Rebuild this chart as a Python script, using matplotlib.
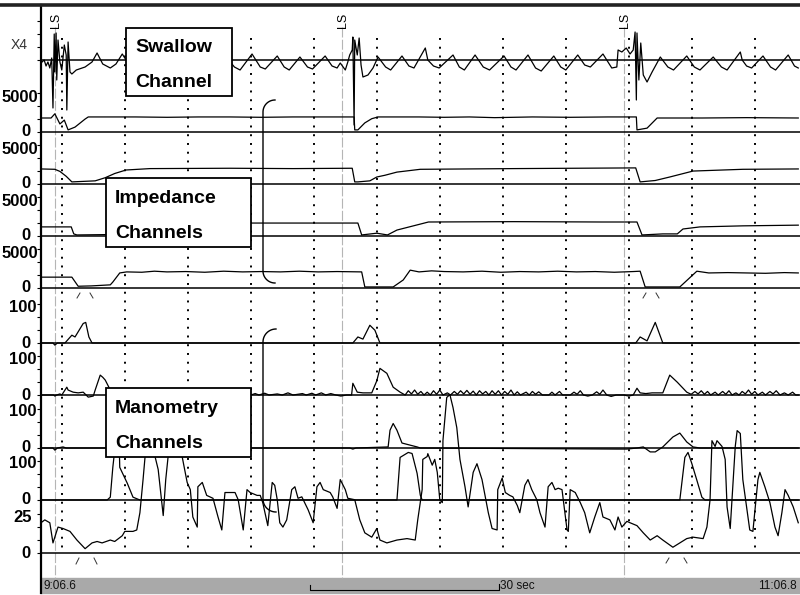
import numpy as np
import matplotlib
matplotlib.use("Agg")
import matplotlib.pyplot as plt
from matplotlib.patches import Rectangle
from matplotlib.lines import Line2D

plt.rcParams['font.family'] = ['Liberation Sans', 'DejaVu Sans']

# ---- recording data: (seconds from 9:06.6, value) ----
# swallow channel (relative units, X4)
swallow = [(0.0,-3),(0.5,0),(0.8,-6),(1.1,-2),(1.4,-8),(1.7,2),(1.9,-48),(2.1,26),(2.2,-12),(2.4,27),
           (2.5,-20),(2.7,20),(3.0,-2),(3.3,-10),(3.7,15),(4.0,5),(4.1,-50),(4.3,18),(4.6,-12),(4.9,-14),
           (5.6,-10),(7.0,-7),(8.1,-2),(8.9,7),(9.8,-4),(11.0,-8),(11.9,-4),(12.9,6),(14.2,-7),(15.1,-10),
           (17.0,4),(18.3,-7),(19.2,-10),(21.1,4),(22.4,-7),(23.3,-10),(25.2,3),(26.5,-7),(27.4,-10),(29.4,3),
           (30.7,-7),(31.6,-10),(33.5,6),(34.8,-7),(35.6,-9),(37.5,4),(38.6,-7),(39.4,-10),(41.1,3),(42.3,-7),
           (43.1,-9),(45.1,4),(46.2,-6),(47.0,-8),(47.5,-3),(48.3,-10),(48.7,-2),(49.0,5),(49.4,10),(49.5,23),
           (49.7,-65),(49.8,20),(50.2,5),(50.5,22),(50.8,-5),(51.1,-17),(51.9,-15),(52.7,-8),(53.5,3),(54.7,-7),
           (55.5,-10),(57.3,4),(58.4,-6),(59.2,-8),(61.0,12),(61.4,0),(62.3,-6),(63.2,-8),(65.4,5),(66.4,-7),
           (67.2,-10),(68.9,5),(70.2,-7),(71.2,-10),(73.5,4),(74.6,-7),(75.4,-10),(77.3,5),(78.5,-8),(79.4,-11),
           (81.4,4),(82.5,-7),(83.3,-10),(85.2,5),(86.3,-5),(87.2,-7),(89.2,6),(90.6,-8),(91.4,-7),(91.6,10),
           (92.2,8),(92.9,12),(93.5,6),(94.0,10),(94.3,28),(94.5,-40),(94.6,27),(94.9,-20),(95.2,17),(95.6,-15),
           (96.2,-22),(97.0,-12),(98.3,3),(99.5,-7),(100.4,-10),(102.5,4),(103.7,-7),(104.6,-10),(106.7,3),(108.0,-7),
           (108.9,-10),(111.0,8),(111.3,0),(112.0,-6),(112.8,-8),(114.6,4),(115.8,-7),(116.6,-10),(118.6,5),(119.6,-6),
           (120.2,-8)]

# impedance channels (ohm)
imp1 = [(0,2000),(1.6,2000),(2.2,2600),(3.0,1150),(3.7,1700),(4.3,300),(5.4,700),(7.0,1850),(7.5,2150),
        (15,2150),(20,2100),(25,2150),(30,2150),(35,2100),(40,2150),(49.7,2150),(49.8,300),(50.3,300),
        (51.4,1300),(52.5,1900),(53.5,2150),(60,2150),(64,2100),(68,2150),(72,2050),(78,2150),(84,2100),
        (90,2150),(94.5,2150),(94.6,300),(96.2,550),(97.8,2000),(105,2000),(112,2050),(120.2,2000)]
imp2 = [(0,2150),(2.2,2100),(3.0,1800),(4.0,1100),(4.9,300),(8.6,450),(10.2,900),(11.7,1500),(13.5,2000),
        (17.3,2200),(30,2250),(40,2200),(49.4,2250),(49.8,300),(50.3,300),(52.2,450),(53.3,1000),(54.6,1250),
        (56.5,1700),(60.2,2100),(75,2200),(94.4,2300),(95.1,300),(97.5,500),(99.8,1000),(103.5,1850),
        (111.4,2100),(120.2,2150)]
imp3 = [(0,1300),(4.8,1300),(5.2,300),(5.7,150),(10.3,200),(21,300),(24,1600),(33.4,1850),(50.3,1850),
        (50.9,150),(53.3,400),(55.0,150),(56.5,850),(60.2,1700),(61.5,2000),(75,2050),(89,2000),(94.6,2000),
        (95.4,150),(98.7,300),(101.0,300),(101.9,1000),(104.6,1300),(111.4,1450),(120.2,1550)]
imp4 = [(0,1550),(4.9,1550),(5.9,250),(8.0,300),(11.0,450),(11.4,850),(12.5,2150),(13.6,2300),(16,2250),
        (18,2400),(20,2300),(23,2350),(26,2250),(29,2400),(32,2300),(35,2350),(38,2300),(41,2400),(44,2300),
        (47,2350),(50.9,2300),(51.4,150),(55.9,150),(57.5,1150),(58.6,2550),(60,2300),(62,2450),(64,2350),
        (67,2300),(70,2400),(73,2250),(76,2350),(79,2300),(82,2400),(85,2300),(88,2350),(91,2250),(94,2350),
        (95.1,2400),(95.9,150),(101.4,150),(104.1,2400),(106,2150),(109,2200),(112,2150),(115,2100),
        (118,2200),(120.2,2150)]

# manometry channels (mmHg)
man1 = [(0,0),(1.9,0),(2.2,-6),(2.6,0),(3.8,0),(4.9,22),(5.4,17),(6.7,55),(7.1,58),(7.6,17),(8.1,0),
        (49.5,0),(50.3,17),(51.1,11),(52.2,50),(53.0,36),(53.8,0),(94.4,0),(95.1,17),(96.2,6),(97.5,58),
        (98.7,0),(120.2,0)]
man2 = [(0,0),(2.0,0),(2.2,-3),(2.5,0),(3.0,3),(3.3,0),(4.1,22),(4.3,14),(5.1,8),(5.9,6),(6.7,8),(7.5,-6),
        (8.3,-3),(8.6,14),(9.4,56),(9.8,50),(10.2,42),(11.0,14),(11.7,3),(12.5,0),(33.3,0),(34.0,4),(34.6,0),
        (35.5,5),(36.2,0),(37.5,3),(38.3,0),(39.2,6),(40.0,0),(41.5,4),(42.1,0),(43.0,5),(43.6,0),(44.5,6),
        (45.2,0),(46.0,4),(46.8,0),(47.6,-3),(48.5,0),(49.3,0),(49.5,33),(50.2,8),(51.1,6),(52.5,6),(53.3,40),
        (53.8,75),(54.9,61),(55.9,22),(57.0,8),(57.8,0),(58.3,12),(58.8,3),(59.3,14),(59.8,2),(60.3,10),
        (60.8,0),(61.3,8),(61.8,0),(62.3,12),(62.8,2),(63.3,14),(63.8,0),(64.5,6),(65.0,0),(65.6,10),(66.1,2),
        (66.6,12),(67.1,3),(67.6,13),(68.1,2),(68.6,11),(69.1,0),(69.6,12),(70.1,3),(70.6,10),(71.1,0),
        (71.6,12),(72.1,2),(72.6,12),(73.1,0),(73.6,10),(74.1,2),(74.6,14),(75.1,0),(75.6,9),(76.1,0),
        (77.0,8),(77.5,0),(78.0,10),(78.5,2),(79.0,9),(79.6,0),(80.6,0),(81.1,8),(81.6,0),(82.3,10),(82.8,0),
        (84.0,0),(84.6,8),(85.1,2),(85.6,12),(86.1,0),(86.8,-3),(87.5,0),(88.2,9),(88.7,2),(89.2,14),(89.8,0),
        (90.5,-4),(91.3,0),(92.5,0),(93.3,-3),(94.0,0),(94.6,19),(95.1,6),(96.0,4),(97.0,6),(98.7,6),
        (99.8,56),(101.0,36),(102.5,8),(103.2,2),(103.8,10),(104.3,3),(104.8,12),(105.3,2),(105.8,10),
        (106.3,0),(107.0,8),(107.5,0),(108.2,10),(108.7,2),(109.2,12),(109.7,0),(110.3,6),(110.8,0),
        (111.3,10),(111.8,3),(112.3,14),(112.8,2),(113.3,10),(113.8,0),(114.5,8),(115.0,0),(115.7,10),
        (116.2,3),(116.7,12),(117.3,0),(118.0,6),(118.6,0),(119.3,8),(119.8,0),(120.2,0)]
man3 = [(0,0),(1.9,0),(2.2,-6),(2.6,0),(3.5,3),(4.0,0),(49.0,0),(49.5,-3),(50.0,0),(55.1,3),(55.4,50),
        (55.9,69),(56.5,50),(57.3,14),(58.6,8),(59.7,3),(60.2,0),(91.4,-3),(93.0,-3),(94.6,0),(95.6,3),
        (96.7,-11),(97.5,-11),(98.7,3),(100.3,31),(101.4,42),(102.5,17),(103.5,3),(104.6,0),(120.2,0)]
man4 = [(0,0),(10.5,0),(11.0,8),(11.4,92),(11.7,140),(12.1,190),(12.4,168),(12.5,92),(13.7,47),(14.6,8),
        (15.7,0),(56.5,0),(57.0,120),(58.3,134),(58.9,131),(59.7,75),(60.2,14),(60.5,0),(101.4,0),
        (102.2,120),(102.7,134),(103.3,103),(104.1,56),(104.9,8),(105.4,0),(120.2,0)]
man5 = [(0.0,21),(0.6,23),(1.4,21),(1.9,7),(2.7,18),(3.5,17),(4.6,15),(5.7,9),(7.0,3),(8.1,7),(8.9,8),
        (9.7,7),(11.0,9),(11.7,8),(12.9,12),(13.3,15),(14.6,15),(15.2,16),(15.7,28),(16.2,51),(16.5,66),
        (17.0,85),(17.6,85),(18.1,67),(18.6,58),(19.4,26),(19.8,51),(20.2,68),(20.8,78),(21.7,78),(22.4,67),
        (23.2,49),(23.7,44),(24.1,25),(24.8,18),(24.9,46),(25.6,49),(26.3,40),(27.3,38),(28.1,25),(28.7,16),
        (29.2,42),(30.0,42),(30.8,42),(31.3,37),(32.1,16),(32.7,44),(33.2,42),(34.3,40),(34.8,40),(35.2,35),
        (36.0,19),(36.7,49),(37.1,47),(37.5,37),(37.9,21),(38.4,18),(39.0,23),(39.8,44),(40.3,46),(40.8,38),
        (41.4,39),(42.4,30),(43.2,21),(43.8,46),(44.3,49),(44.8,44),(45.9,42),(46.3,39),(47.0,31),(47.5,51),
        (48.3,44),(48.7,38),(49.8,37),(50.6,23),(51.4,14),(52.5,11),(53.3,17),(53.8,9),(54.9,7),(56.5,9),
        (58.1,10),(59.4,9),(59.8,23),(60.5,44),(60.6,65),(61.3,67),(61.4,69),(62.1,61),(62.5,65),(62.9,56),
        (63.3,37),(63.7,35),(63.8,78),(64.4,108),(64.9,110),(65.4,101),(66.0,87),(66.5,65),(67.3,46),
        (67.8,32),(68.6,56),(69.2,62),(70.0,51),(71.0,28),(71.6,17),(72.4,16),(72.5,44),(73.2,52),(73.7,42),
        (74.4,40),(74.9,39),(75.6,33),(76.0,28),(76.8,47),(77.3,51),(77.9,44),(78.7,37),(79.2,28),(80.0,18),
        (80.5,46),(81.1,49),(81.6,44),(82.1,45),(82.7,44),(83.5,16),(83.7,15),(84.0,44),(84.8,42),(85.6,35),
        (86.3,28),(87.1,14),(87.9,25),(88.7,35),(89.2,25),(90.3,23),(91.1,16),(91.6,25),(92.2,18),(93.0,22),
        (93.5,21),(94.6,19),(95.6,14),(96.7,9),(97.8,12),(98.7,9),(100.3,4),(101.4,7),(102.5,10),(103.5,11),
        (105.1,10),(105.7,18),(106.2,37),(106.5,78),(107.0,74),(107.3,78),(108.1,74),(108.6,65),(108.9,32),
        (109.4,17),(110.2,74),(110.5,85),(111.0,83),(111.4,51),(112.5,16),(113.0,15),(113.8,51),(114.1,56),
        (114.9,46),(115.7,35),(116.5,18),(117.0,12),(117.6,28),(118.1,44),(118.6,40),(119.4,32),(120.2,21)]

swallow_marks = [2.2, 47.8, 92.5]          # LS events (s)
grid_times = [3.4 + 10 * k for k in range(12)]
start_label, end_label = "9:06.6", "11:06.8"

# ---- layout in screen rows ----
W, H = 800, 595
PX_PER_S = 6.3
X0 = 41
def sx(px):
    return (px - X0) / PX_PER_S

# (data, baseline row, rows per unit)
channels = [(swallow, 60, 1.0),
            (imp1, 132, 0.007), (imp2, 184, 0.007), (imp3, 236, 0.007), (imp4, 288, 0.007),
            (man1, 343, 0.355), (man2, 395, 0.355), (man3, 448, 0.355), (man4, 500, 0.355),
            (man5, 553, 1.44)]

fig = plt.figure(figsize=(8, 5.95), dpi=100)
ax = fig.add_axes([X0 / W, 0, 1 - X0 / W, 1])
ax.set_xlim(0, sx(W))
ax.set_ylim(H, 0)
for s in ax.spines.values():
    s.set_visible(False)
ax.set_xticks([])
ticks = []
for b in [60, 132, 184, 236, 288, 343, 395, 448, 500, 553]:
    ticks += [b, b - 13, b - 26, b - 39]
ax.set_yticks(ticks)
ax.set_yticklabels([])
ax.tick_params(axis='y', length=3, width=0.8, direction='out', color='black')

# bottom time bar
ax.add_patch(Rectangle((0, 578), sx(W), 15, color='#a9a9a9', zorder=1, clip_on=False))
ax.text(sx(44), 586, start_label, fontsize=8.5, ha='left', va='center', color='#111111')
ax.text(sx(797), 586, end_label, fontsize=8.5, ha='right', va='center', color='#111111')
ax.plot([sx(310), sx(310), sx(499), sx(499)], [585, 590, 590, 584], color='black', lw=0.8, zorder=2)
ax.text(sx(500), 586, "30 sec", fontsize=8.5, ha='left', va='center', color='#111111')

# LS event lines
for t in swallow_marks:
    ax.plot([t, t], [27, 578], color='#b5b5b5', lw=0.8, ls=(0, (9, 2)), zorder=1)
    ax.text(t + 0.2, 20, "LS", rotation=90, fontsize=9, ha='center', va='center')

# 10 s dotted grid
for t in grid_times:
    ax.plot([t, t], [38, 548], color='black', lw=1.4, ls=(0, (1, 3.5)),
            dash_capstyle='butt', zorder=2)

# baselines and traces
for data, base, k in channels:
    ax.plot([0, sx(W)], [base, base], color='black', lw=1.1, zorder=3)
    t = np.array([p[0] for p in data])
    v = np.array([p[1] for p in data])
    ax.plot(t, base - v * k, color='black', lw=0.9, zorder=4)

# small marks under channels
for x1, x2, y1, y2 in [(77, 80, 298, 293), (90, 93, 293, 298), (643, 646, 298, 293), (656, 659, 293, 298),
                       (76, 79, 564, 558), (94, 97, 558, 564), (666, 669, 563, 558), (684, 687, 558, 563)]:
    ax.plot([sx(x1), sx(x2)], [y1, y2], color='#333333', lw=0.7, zorder=4)

# label boxes
def label_box(x1, y1, x2, y2, lines, tx, bases):
    ax.add_patch(Rectangle((sx(x1), y1), sx(x2) - sx(x1), y2 - y1, facecolor='white',
                           edgecolor='black', lw=1.3, zorder=5))
    for s, yb in zip(lines, bases):
        ax.text(sx(tx), yb, s, fontsize=14, fontweight='bold', ha='left', va='baseline', zorder=6)

label_box(126, 28, 232, 96, ["Swallow", "Channel"], 135, [52, 87])
label_box(106, 178, 251, 247, ["Impedance", "Channels"], 115, [203, 238])
label_box(106, 388, 251, 457, ["Manometry", "Channels"], 115, [413, 448])

# brackets
def bracket(x, y_top, y_bot, r=12):
    a = np.linspace(0, np.pi / 2, 20)
    xt = (x + r) - r * np.sin(a)
    yt = (y_top + r) - r * np.cos(a)
    xb = (x + r) - r * np.cos(a)
    yb = (y_bot - r) + r * np.sin(a)
    xs = np.concatenate([xt, xb])
    ys = np.concatenate([yt, yb])
    ax.plot(sx(xs), ys, color='black', lw=1.0, zorder=6)

bracket(263, 100, 283)
bracket(263, 329, 512, r=13)

# scale labels
for b in [132, 184, 236, 288]:
    ax.text(sx(38), b - 35, "5000", fontsize=12, fontweight='bold', ha='right', va='center')
    ax.text(sx(31), b, "0", fontsize=12, fontweight='bold', ha='right', va='center')
for b in [343, 395, 448, 500]:
    ax.text(sx(37), b - 36, "100", fontsize=12, fontweight='bold', ha='right', va='center')
    ax.text(sx(31), b, "0", fontsize=12, fontweight='bold', ha='right', va='center')
ax.text(sx(32), 517, "25", fontsize=12, fontweight='bold', ha='right', va='center')
ax.text(sx(31), 553, "0", fontsize=12, fontweight='bold', ha='right', va='center')
ax.text(sx(28), 45, "X4", fontsize=10, ha='right', va='center', color='#333333')

# frame lines
ax.plot([0, 0], [5, 593], color='black', lw=1.6, zorder=7, clip_on=False)
fig.add_artist(Line2D([0, 1], [1 - 5 / H, 1 - 5 / H], lw=2.6, color='#222222'))

fig.savefig("out.png", dpi=100)
